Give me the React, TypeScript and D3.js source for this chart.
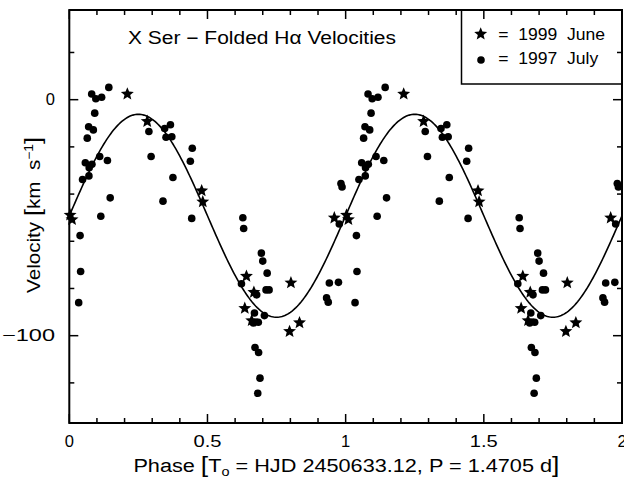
import React from 'react';
import * as d3 from 'd3';

const WIDTH = 624;
const HEIGHT = 480;

// 1999 June (stars) - phase, velocity km/s
const junePhase = [0.003, 0.010, 0.210, 0.282, 0.479, 0.483, 0.635, 0.641, 0.660, 0.668, 0.797, 0.802, 0.833, 0.959];
const juneVel = [-48.9, -50.8, 2.4, -9.2, -38.6, -43.3, -88.4, -74.8, -93.6, -81.6, -98.2, -77.6, -94.5, -50.1];

// 1997 July (dots)
const julyPhase = [
  0.081, 0.096, 0.117, 0.143, 0.092, 0.070, 0.087, 0.065, 0.110, 0.138,
  0.058, 0.082, 0.072, 0.048, 0.071, 0.148, 0.114, 0.288, 0.296, 0.345,
  0.366, 0.350, 0.371, 0.445, 0.438, 0.375, 0.339, 0.443, 0.628, 0.631,
  0.695, 0.700, 0.716, 0.712, 0.723, 0.623, 0.678, 0.670, 0.706, 0.684,
  0.666, 0.672, 0.685, 0.690, 0.682, 0.941, 0.974, 0.931, 0.937, 0.977,
  0.983, 0.987, 0.039, 0.041, 0.034,
];
const julyVel = [
  2.4, 0.4, 1.0, 5.2, -5.7, -11.5, -12.8, -16.3, -24.1, -25.8,
  -26.7, -27.4, -28.8, -33.8, -32.3, -41.6, -49.4, -13.5, -24.1, -12.2,
  -10.6, -15.9, -15.7, -20.6, -26.1, -33.0, -43.0, -50.3, -50.0, -54.6,
  -65.0, -68.4, -73.5, -80.6, -80.6, -78.0, -82.7, -90.4, -91.5, -94.3,
  -94.6, -105.0, -107.1, -118.0, -124.4, -77.7, -77.4, -84.0, -85.8, -52.7,
  -35.5, -37.0, -57.6, -72.8, -86.0,
];

// sine fit: v = gamma + K sin(2 pi phase)
const fitGamma = -49.2;
const fitK = 43.0;

const xTickLabels = ['0', '0.5', '1', '1.5', '2'];
const yTickLabels = ['0', '\u2212100'];
const legendLabels = ['=  1999  June', '=  1997  July'];

const FONT = '"Liberation Sans", Arial, sans-serif';
const pre = { whiteSpace: 'pre' } as React.CSSProperties;

// fat 5-point star like the pgplot marker
const starPath = d3.lineRadial<number>()
  .angle((d, i) => (i * Math.PI) / 5)
  .radius((d) => d)
  .curve(d3.curveLinearClosed)(d3.range(10).map((i) => (i % 2 === 0 ? 6.8 : 3.0)));

export default function App() {
  const left = 69.3, right = 622, top = 10, bottom = 423;
  const x = d3.scaleLinear().domain([0, 2]).range([left, right]);
  const y = d3.scaleLinear().domain([-137, 38]).range([bottom, top]);

  const dot = 3.8;

  // folded data plotted over two cycles
  const cycles = [0, 1];

  const curvePts = d3.range(0, 2.0001, 0.005);
  const curve = d3.line<number>()
    .x((p) => x(p))
    .y((p) => y(fitGamma + fitK * Math.sin(2 * Math.PI * p)))(curvePts);

  const xMinor = x.ticks(20);
  const xMajor = x.ticks(4);
  const yMinor = y.ticks(10);
  const yMajor = y.ticks(2);
  const minorLen = 5, majorLen = 9;

  const ticks = [];
  xMinor.forEach((t, i) => {
    const len = xMajor.some((m) => Math.abs(m - t) < 1e-9) ? majorLen : minorLen;
    ticks.push(<line key={'xb' + i} x1={x(t)} x2={x(t)} y1={bottom} y2={bottom - len} />);
    ticks.push(<line key={'xt' + i} x1={x(t)} x2={x(t)} y1={top} y2={top + len} />);
  });
  yMinor.forEach((t, i) => {
    const len = yMajor.some((m) => Math.abs(m - t) < 1e-9) ? majorLen : minorLen;
    ticks.push(<line key={'yl' + i} x1={left} x2={left + len} y1={y(t)} y2={y(t)} />);
    ticks.push(<line key={'yr' + i} x1={right} x2={right - len} y1={y(t)} y2={y(t)} />);
  });

  const legX = 461.5, legBottom = 84;

  return (
    <div style={{ position: 'absolute', left: 0, top: 0, width: WIDTH, height: HEIGHT, overflow: 'hidden', background: '#fff' }}>
      <svg width={WIDTH} height={HEIGHT} style={{ display: 'block' }} fontFamily={FONT}>
        <rect x={left} y={top} width={right - left} height={bottom - top} fill="none" stroke="#000" strokeWidth={2} />
        <g stroke="#000" strokeWidth={1.5}>{ticks}</g>

        {/* legend box */}
        <path d={`M${legX},${top}V${legBottom}H${right}`} fill="none" stroke="#000" strokeWidth={1.5} />
        <path d={starPath} transform={`translate(480.7,34)`} fill="#000" />
        <circle cx={481} cy={60} r={dot} fill="#000" />
        <text x={498.3} y={40} fontSize={17} style={pre} textLength={106.7} lengthAdjust="spacingAndGlyphs">{legendLabels[0]}</text>
        <text x={498.3} y={64.3} fontSize={17} style={pre} textLength={100} lengthAdjust="spacingAndGlyphs">{legendLabels[1]}</text>

        {/* title */}
        <text x={128} y={44.3} fontSize={18} textLength={268} lengthAdjust="spacingAndGlyphs">X Ser {'\u2212'} Folded H{'\u03b1'} Velocities</text>

        {/* fit */}
        <path d={curve} fill="none" stroke="#000" strokeWidth={1.6} />

        {/* data */}
        {cycles.map((c) =>
          julyPhase.map((p, i) => (
            <circle key={'d' + c + '-' + i} cx={x(p + c)} cy={y(julyVel[i])} r={dot} fill="#000" />
          ))
        )}
        {cycles.map((c) =>
          junePhase.map((p, i) => (
            <path key={'s' + c + '-' + i} d={starPath} transform={`translate(${x(p + c)},${y(juneVel[i])})`} fill="#000" />
          ))
        )}

        {/* tick labels */}
        {xMajor.map((t, i) => (
          <text key={'xl' + i} x={x(t)} y={446.7} fontSize={16.5} textAnchor="middle"
            textLength={xTickLabels[i].length > 1 ? 28 : undefined} lengthAdjust="spacingAndGlyphs">{xTickLabels[i]}</text>
        ))}
        {yMajor.slice().sort((a, b) => b - a).map((t, i) => (
          <text key={'yl' + i} x={55} y={y(t) + 5.8} fontSize={16.5} textAnchor="end"
            textLength={yTickLabels[i].length > 1 ? 53 : undefined} lengthAdjust="spacingAndGlyphs">{yTickLabels[i]}</text>
        ))}

        {/* axis labels */}
        <text x={346.4} y={471.7} fontSize={18} textAnchor="middle" style={pre} textLength={426} lengthAdjust="spacingAndGlyphs">
          Phase <tspan fontSize={22}>[</tspan>T<tspan dy={4} fontSize={12}>o</tspan><tspan dy={-4}>{' = HJD 2450633.12, P = 1.4705 d'}</tspan><tspan fontSize={22}>]</tspan>
        </text>
        <text transform="translate(40,215) rotate(-90)" fontSize={18} textAnchor="middle" style={pre} textLength={156} lengthAdjust="spacingAndGlyphs">
          Velocity <tspan fontSize={22}>[</tspan>km  s<tspan dy={-7} fontSize={12}>{'\u22121'}</tspan><tspan dy={7} fontSize={22}>]</tspan>
        </text>
      </svg>
    </div>
  );
}
